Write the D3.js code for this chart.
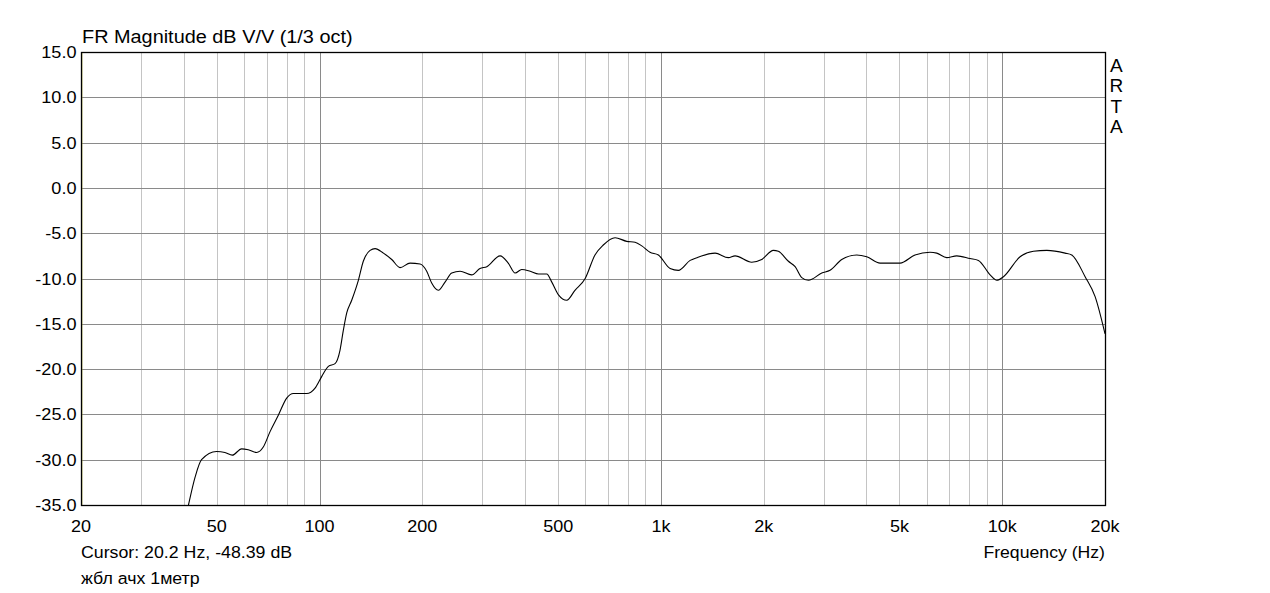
<html>
<head>
<script src="https://d3js.org/d3.v7.min.js"></script>
<style>
  body { margin: 0; background: #fff; }
  text { font-family: "Liberation Sans", Arial, sans-serif; fill: #000; }
</style>
</head>
<body>
<div id="chart"></div>
<script>
// response curve (Hz, dB)
const freqs = [38, 41.3, 43.2, 45.1, 49.9, 52.8, 55.5, 59.1, 61.8, 65.4, 68.4, 71.6, 75.7, 80.1, 83.8, 91.7, 97.0,
  101.5, 106.1, 111.0, 114.8, 117.4, 120.1, 124.2, 129.9, 134.3, 140.6, 145.4, 153.8, 162.7, 172.1, 184.1, 197,
  206, 213, 222.9, 233.1, 243.9, 258, 279, 295, 309, 338, 357, 374, 391, 414, 438, 463, 479, 501, 530, 560,
  600, 641, 678, 734, 794, 840, 879, 929, 983, 1064, 1125, 1218, 1274, 1441, 1576, 1649, 1845, 1974, 2135,
  2208, 2363, 2473, 2586, 2705, 2960, 3130, 3387, 3748, 4009, 4386, 5019, 5553, 6142, 6428, 6877, 7358,
  8049, 8514, 9214, 9640, 10083, 11280, 12340, 13510, 15280, 15980, 17490, 18710, 20000];
const dbs = [-42, -35, -31.9, -30.0, -29.1, -29.2, -29.5, -28.8, -28.9, -29.2, -28.6, -26.9, -25.1, -23.2, -22.7, -22.7, -22.1,
  -20.8, -19.7, -19.4, -17.9, -15.7, -13.8, -12.4, -10.2, -8.1, -6.9, -6.7, -7.2, -7.9, -8.8, -8.3, -8.4,
  -9.2, -10.5, -11.3, -10.4, -9.4, -9.2, -9.6, -8.9, -8.7, -7.5, -8.3, -9.4, -9.0, -9.2, -9.5, -9.5, -10.4, -11.8, -12.4, -11.3,
  -10.0, -7.4, -6.3, -5.5, -5.9, -6.0, -6.4, -7.1, -7.4, -8.9, -9.1, -8.0, -7.7, -7.2, -7.7, -7.5, -8.2, -7.9, -6.9,
  -7.0, -8.1, -8.7, -9.9, -10.2, -9.4, -9.1, -7.9, -7.4, -7.6, -8.3, -8.3, -7.4, -7.1, -7.2, -7.7, -7.5,
  -7.8, -8.0, -9.6, -10.2, -9.8, -7.6, -7.0, -6.9, -7.2, -7.4, -9.8, -12.0, -16.1];

const xTickVals = [20, 50, 100, 200, 500, 1000, 2000, 5000, 10000, 20000];
const xTickLabels = ["20", "50", "100", "200", "500", "1k", "2k", "5k", "10k", "20k"];
const yTickVals = [15, 10, 5, 0, -5, -10, -15, -20, -25, -30, -35];
const majorFreqs = [100, 1000, 10000];
const minorFreqs = [30, 40, 50, 60, 70, 80, 90, 200, 300, 400, 500, 600, 700, 800, 900,
  2000, 3000, 4000, 5000, 6000, 7000, 8000, 9000];
const cursorFreq = 20.2;

const W = 1270, H = 593;
const pL = 81, pR = 1105, pT = 52, pB = 505;

const svg = d3.select("#chart").append("svg")
  .attr("width", W).attr("height", H);

const x = d3.scaleLog().domain([20, 20000]).range([pL, pR]);
const y = d3.scaleLinear().domain([-35, 15]).range([pB, pT]);

// text with a bit of horizontal stretch (the original font is wider than Arial)
function label(g, px, py, str, size, sx, anchor) {
  return g.append("text")
    .attr("transform", `translate(${px},${py}) scale(${sx},1)`)
    .attr("font-size", size)
    .attr("text-anchor", anchor || "start")
    .text(str);
}

svg.append("defs").append("clipPath").attr("id", "plotclip")
  .append("rect").attr("x", pL).attr("y", pT)
  .attr("width", pR - pL).attr("height", pB - pT);

// grid
svg.selectAll(".minor").data(minorFreqs).enter().append("line")
  .attr("x1", d => Math.round(x(d)) + 0.5).attr("x2", d => Math.round(x(d)) + 0.5)
  .attr("y1", pT).attr("y2", pB)
  .attr("stroke", "#c4c4c4").attr("stroke-width", 1);

svg.selectAll(".hgrid").data(yTickVals.slice(1, -1)).enter().append("line")
  .attr("x1", pL).attr("x2", pR)
  .attr("y1", d => Math.round(y(d)) + 0.5).attr("y2", d => Math.round(y(d)) + 0.5)
  .attr("stroke", "#8a8a8a").attr("stroke-width", 1);

svg.selectAll(".major").data(majorFreqs).enter().append("line")
  .attr("x1", d => Math.round(x(d)) + 0.5).attr("x2", d => Math.round(x(d)) + 0.5)
  .attr("y1", pT).attr("y2", pB)
  .attr("stroke", "#8a8a8a").attr("stroke-width", 1);

// curve
const pts = freqs.map((f, i) => [f, dbs[i]]);
svg.append("path")
  .datum(pts)
  .attr("clip-path", "url(#plotclip)")
  .attr("fill", "none")
  .attr("stroke", "#000")
  .attr("stroke-width", 1.1)
  .attr("d", d3.line().x(d => x(d[0])).y(d => y(d[1])).curve(d3.curveMonotoneX));

// cursor marker (faint yellow, sits against the left edge)
svg.append("line")
  .attr("x1", x(cursorFreq) - 0.5).attr("x2", x(cursorFreq) - 0.5)
  .attr("y1", pT + 1).attr("y2", pB)
  .attr("stroke", "#b4b030").attr("stroke-opacity", 0.7).attr("stroke-width", 1);

// frame
svg.append("rect")
  .attr("x", pL + 0.5).attr("y", pT + 0.5)
  .attr("width", pR - pL).attr("height", pB - pT)
  .attr("fill", "none").attr("stroke", "#000").attr("stroke-width", 1.3);

// tick labels
yTickVals.forEach(d => label(svg, pL - 4.5, Math.round(y(d)) + 6, d.toFixed(1), 16, 1.13, "end"));
xTickVals.forEach((d, i) => label(svg, x(d), 531.5, xTickLabels[i], 17, 1.06, "middle"));

label(svg, pL + 1, 42.5, "FR Magnitude dB V/V (1/3 oct)", 18.5, 1.075);
label(svg, pL, 558.3, "Cursor: 20.2 Hz, -48.39 dB", 16.3, 1.09);
label(svg, pR, 558.3, "Frequency (Hz)", 16.5, 1.07, "end");
label(svg, pL, 583.5, "жбл ачх 1метр", 16.5, 1.077);

["A", "R", "T", "A"].forEach((c, i) => label(svg, 1116.4, 71.7 + i * 20.5, c, 19, 1.0, "middle"));
</script>
</body>
</html>
